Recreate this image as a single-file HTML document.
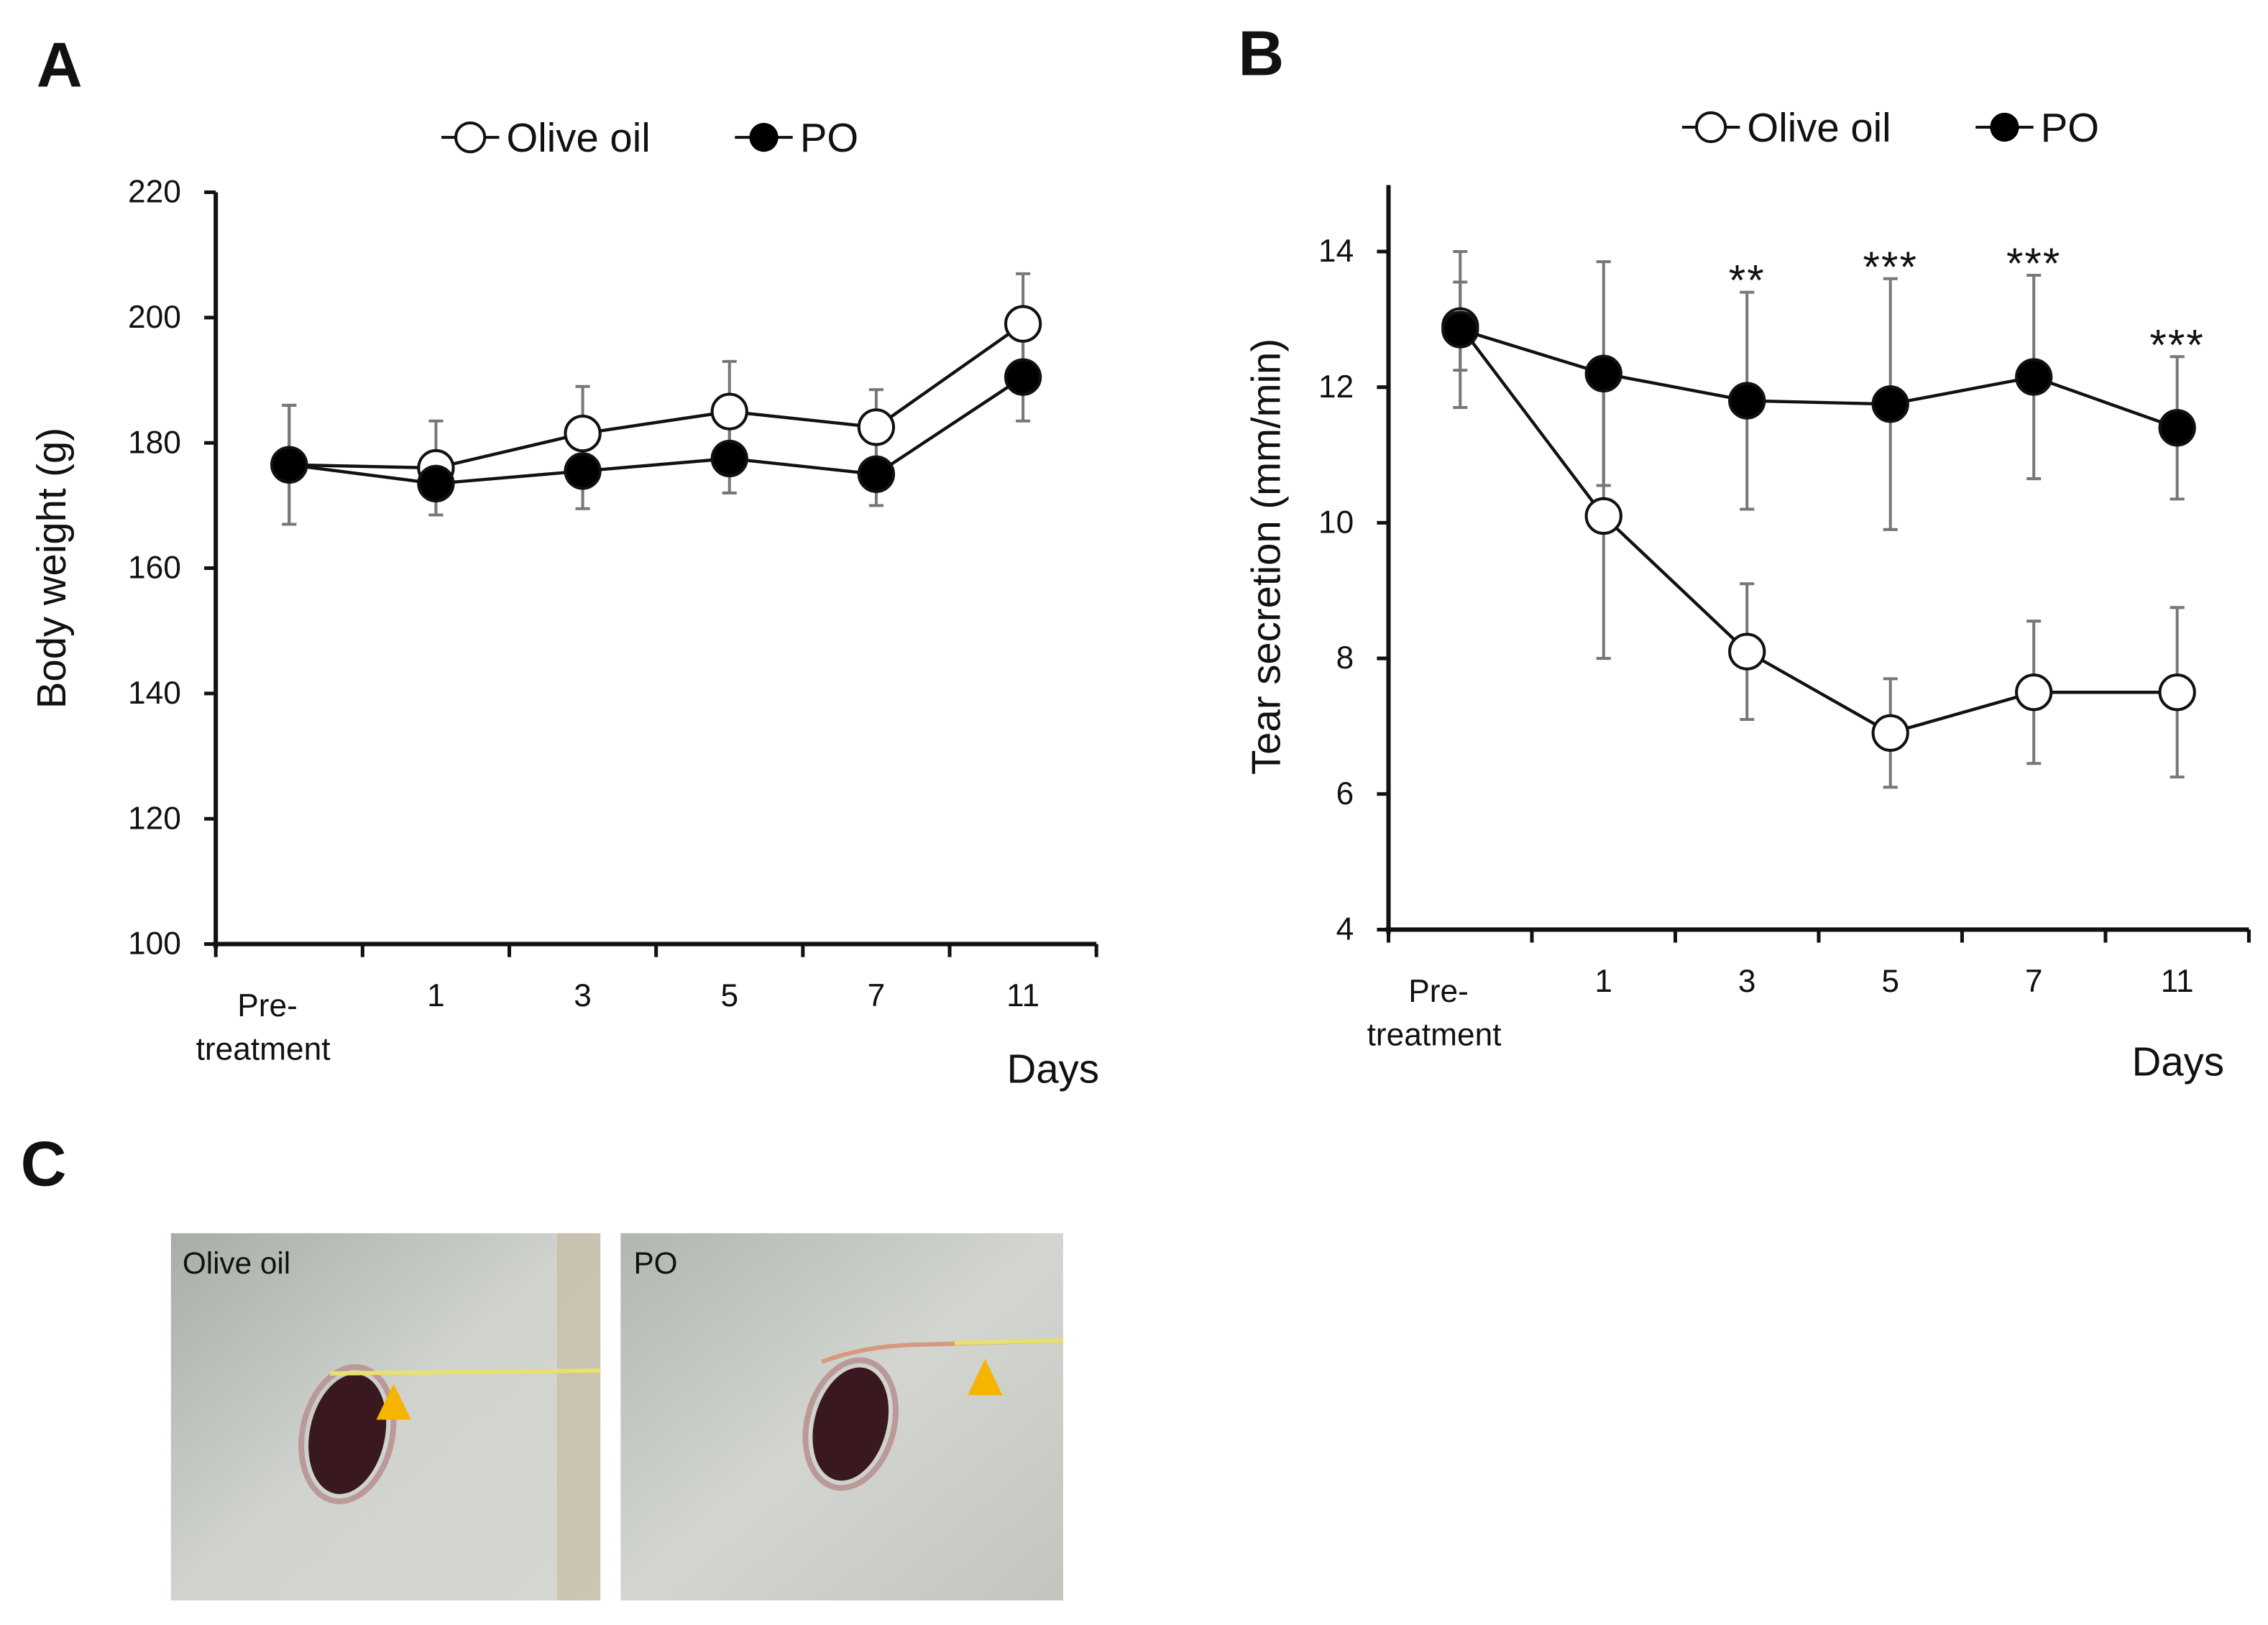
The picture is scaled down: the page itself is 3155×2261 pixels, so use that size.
<!DOCTYPE html>
<html><head><meta charset="utf-8"><style>
html,body{margin:0;padding:0;background:#fff}
svg{display:block}
text{font-family:"Liberation Sans",Arial,sans-serif;fill:#111}
</style></head><body>
<svg id="fig" width="3155" height="2261" viewBox="0 0 1568 1124" xmlns="http://www.w3.org/2000/svg">
<defs>
<linearGradient id="fur1" x1="0" y1="0" x2="1" y2="1"><stop offset="0" stop-color="#a7aea7"/><stop offset="0.5" stop-color="#d0d3ce"/><stop offset="1" stop-color="#d6d6d0"/></linearGradient>
<linearGradient id="fur2" x1="0" y1="0" x2="1" y2="1"><stop offset="0" stop-color="#b0b6b0"/><stop offset="0.5" stop-color="#d3d6d0"/><stop offset="1" stop-color="#c2c5be"/></linearGradient>
</defs>
<text x="25" y="60" font-size="44" font-weight="bold">A</text>
<text x="856" y="52" font-size="44" font-weight="bold">B</text>
<text x="14" y="820" font-size="44" font-weight="bold">C</text>
<g id="chartA"></g>
<g id="chartB"></g>
<g>
<rect x="118" y="853" width="297" height="254" fill="url(#fur1)"/>
<rect x="385" y="853" width="30" height="254" fill="#b7a679" opacity="0.35"/>
<ellipse cx="240" cy="992" rx="26" ry="42" fill="#3a1820" transform="rotate(12 240 992)"/>
<ellipse cx="240" cy="992" rx="31" ry="47" fill="none" stroke="#b99" stroke-width="4" transform="rotate(12 240 992)"/>
<line x1="228" y1="950" x2="415" y2="948" stroke="#e8e070" stroke-width="3"/>
<polygon points="272,957 260,982 284,982" fill="#f5b400"/>
<text x="126" y="881" font-size="21">Olive  oil</text>
</g>
<g>
<rect x="429" y="853" width="306" height="254" fill="url(#fur2)"/>
<ellipse cx="588" cy="985" rx="25" ry="40" fill="#3a1820" transform="rotate(15 588 985)"/>
<ellipse cx="588" cy="985" rx="30" ry="45" fill="none" stroke="#b99" stroke-width="4" transform="rotate(15 588 985)"/>
<path d="M568,942 Q600,930 640,930 L735,927" stroke="#d89880" stroke-width="3" fill="none"/>
<line x1="660" y1="929" x2="735" y2="927" stroke="#e8e070" stroke-width="3"/>
<polygon points="681,940 669,965 693,965" fill="#f5b400"/>
<text x="438" y="881" font-size="21">PO</text>
</g>
</svg>
<script>
const NS="http://www.w3.org/2000/svg";
const categories=["Pre-treatment","1","3","5","7","11"];
const aOliveMean=[176.5,176,181.5,185,182.5,199];
const aOliveErr=[9.5,7.5,7.5,8,6,8];
const aPoMean=[176.5,173.5,175.5,177.5,175,190.5];
const aPoErr=[9.5,5,6,5.5,5,7];
const aTicks=[100,120,140,160,180,200,220];
const bOliveMean=[12.9,10.1,8.1,6.9,7.5,7.5];
const bOliveErr=[0.65,2.1,1.0,0.8,1.05,1.25];
const bPoMean=[12.85,12.2,11.8,11.75,12.15,11.4];
const bPoErr=[1.15,1.65,1.6,1.85,1.5,1.05];
const bTicks=[4,6,8,10,12,14];
const bStars=["","","**","***","***","***"];

function mk(parent,tag,attrs){const e=document.createElementNS(NS,tag);for(const k in attrs)e.setAttribute(k,attrs[k]);parent.appendChild(e);return e;}

function drawChart(g,cfg){
  const {x0,x1,yTop,yBot,vMin,vMax,ticks,olive,oliveErr,po,poErr,stars,axisTop}=cfg;
  const n=categories.length, step=(x1-x0)/n;
  const xs=i=>x0+step*(i+0.5);
  const ys=v=>yBot-(v-vMin)/(vMax-vMin)*(yBot-yTop);
  let ax=mk(g,"line",{x1:x0,y1:axisTop,x2:x0,y2:yBot+3,stroke:"#111","stroke-width":3});
  
  
  let bx=mk(g,"line",{x1:x0-2,y1:yBot,x2:x1,y2:yBot,stroke:"#111","stroke-width":3});
  
  
  ticks.forEach(t=>{
    mk(g,"line",{x1:x0-8,y1:ys(t),x2:x0,y2:ys(t),stroke:"#111","stroke-width":2.5});
    const tl=mk(g,"text",{x:x0-24,y:ys(t)+7,"font-size":22,"text-anchor":"end"});tl.textContent=t;
    
    
  });
  for(let i=0;i<=n;i++){mk(g,"line",{x1:x0+step*i,y1:yBot,x2:x0+step*i,y2:yBot+9,stroke:"#111","stroke-width":2.5});}
  categories.forEach((c,i)=>{
    if(i===0){
      const t1=mk(g,"text",{x:xs(0)-15,y:yBot+50,"font-size":22,"text-anchor":"middle"});t1.textContent="Pre-";
      
      
      const t2=mk(g,"text",{x:xs(0)-18,y:yBot+80,"font-size":22,"text-anchor":"middle"});t2.textContent="treatment";
      
      
    } else {
      const t=mk(g,"text",{x:xs(i),y:yBot+43,"font-size":22,"text-anchor":"middle"});t.textContent=c;
      
      
    }
  });
  const series=[[olive,oliveErr,"#fff","olive-oil"],[po,poErr,"#000","po"]];
  series.forEach(([m,e,fill,name])=>{
    m.forEach((v,i)=>{
      const x=xs(i);
      const eb=mk(g,"path",{d:`M${x},${ys(v+e[i])}V${ys(v-e[i])}M${x-5},${ys(v+e[i])}h10M${x-5},${ys(v-e[i])}h10`,stroke:"#777","stroke-width":2,fill:"none"});
      
      
    });
  });
  series.forEach(([m,e,fill,name])=>{
    const pl=mk(g,"polyline",{points:m.map((v,i)=>xs(i)+","+ys(v)).join(" "),fill:"none",stroke:"#111","stroke-width":2.2});
    
    
  });
  series.forEach(([m,e,fill,name])=>{
    m.forEach((v,i)=>{
      const c=mk(g,"circle",{cx:xs(i),cy:ys(v),r:12,fill:fill,stroke:"#111","stroke-width":2});
      
      
    });
  });
  if(stars){stars.forEach((s,i)=>{ if(!s)return;
    const top=po[i]+poErr[i];
    const t=mk(g,"text",{x:xs(i),y:ys(top)+2,"font-size":30,"text-anchor":"middle","letter-spacing":"1"});t.textContent=s;
    
    
  });}
}
function legend(g,x,y){
  mk(g,"line",{x1:x,y1:y,x2:x+40,y2:y,stroke:"#111","stroke-width":2});
  mk(g,"circle",{cx:x+20,cy:y,r:10,fill:"#fff",stroke:"#111","stroke-width":2});
  const t=mk(g,"text",{x:x+45,y:y+10,"font-size":28});t.textContent="Olive oil";
  
  
  const x2=x+203;
  mk(g,"line",{x1:x2,y1:y,x2:x2+40,y2:y,stroke:"#111","stroke-width":2});
  mk(g,"circle",{cx:x2+20,cy:y,r:10,fill:"#000"});
  const t2=mk(g,"text",{x:x2+45,y:y+10,"font-size":28});t2.textContent="PO";
  
  
}
const gA=document.getElementById("chartA"), gB=document.getElementById("chartB");
drawChart(gA,{x0:149,x1:758,yTop:133,yBot:653,vMin:100,vMax:220,ticks:aTicks,olive:aOliveMean,oliveErr:aOliveErr,po:aPoMean,poErr:aPoErr,axisTop:133});
drawChart(gB,{x0:960,x1:1555,yTop:174,yBot:643,vMin:4,vMax:14,ticks:bTicks,olive:bOliveMean,oliveErr:bOliveErr,po:bPoMean,poErr:bPoErr,stars:bStars,axisTop:128});
legend(gA,305,95);
legend(gB,1163,88);
let ya=mk(gA,"text",{x:0,y:0,"font-size":28,"text-anchor":"middle",transform:"translate(45,393) rotate(-90)"});ya.textContent="Body weight  (g)";


let yb=mk(gB,"text",{x:0,y:0,"font-size":28,"text-anchor":"middle",transform:"translate(885,385) rotate(-90)"});yb.textContent="Tear secretion (mm/min)";


let xa=mk(gA,"text",{x:728,y:749,"font-size":28,"text-anchor":"middle"});xa.textContent="Days";


let xb=mk(gB,"text",{x:1506,y:744,"font-size":28,"text-anchor":"middle"});xb.textContent="Days";


</script>
</body></html>
